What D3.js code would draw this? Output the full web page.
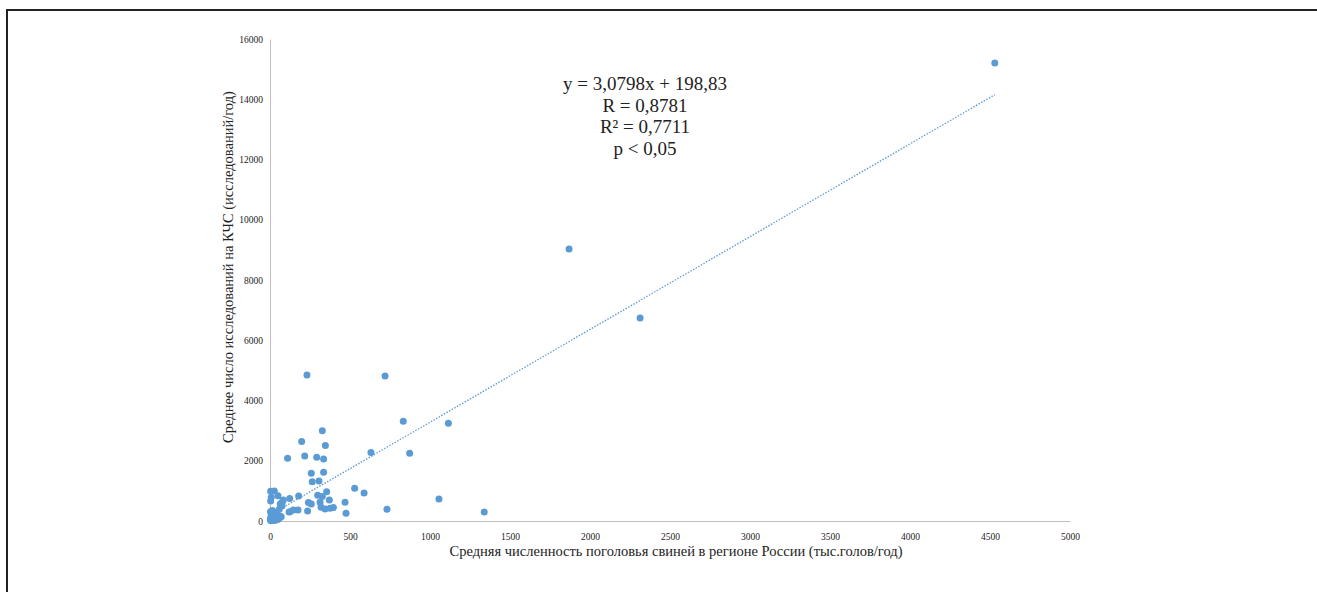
<!DOCTYPE html>
<html>
<head>
<meta charset="utf-8">
<script src="https://cdn.jsdelivr.net/npm/d3@7"></script>
<style>
  body { margin: 0; background: #fff; }
  text { font-family: "Liberation Serif", "Times New Roman", serif; fill: #222; }
</style>
</head>
<body>
<script>
// pig numbers (thous. heads/year) and CSF tests per year
var pigs = [4530, 1869, 2313, 231, 719, 833, 1115, 327, 198, 346, 631, 873, 110, 217, 292, 335,
            258, 335, 264, 306, 354, 298, 327, 371, 529, 588, 1056, 469, 475, 731, 1339, 240,
            258, 235, 179, 123, 4, 27, 8, 50, 319, 344, 375, 396, 313, 146, 119, 175, 75, 77,
            83, 64, 58, 4, 125,
            2, 5, 8, 10, 12, 15, 18, 20, 22, 25, 28, 30, 33, 36, 40, 44, 48, 52, 58, 62, 3, 6, 14, 26, 70];
var tests = [15200, 9030, 6740, 4850, 4810, 3310, 3245, 3000, 2640, 2510, 2270, 2250, 2085, 2160, 2115, 2060,
             1585, 1615, 1300, 1330, 975, 855, 810, 700, 1085, 930, 730, 620, 255, 390, 300, 610,
             565, 335, 830, 750, 985, 1000, 790, 835, 455, 400, 420, 445, 620, 365, 300, 365, 500, 630,
             700, 565, 390, 664, 310,
             50, 120, 200, 280, 90, 30, 160, 240, 60, 110, 180, 20, 140, 70, 100, 210, 50, 130, 90, 170, 310, 10, 350, 300, 140];

var xTicks = [0, 500, 1000, 1500, 2000, 2500, 3000, 3500, 4000, 4500, 5000];
var yTicks = [0, 2000, 4000, 6000, 8000, 10000, 12000, 14000, 16000];

var slope = 3.0798, intercept = 198.83;
var statLines = ["y = 3,0798x + 198,83", "R = 0,8781", "R\u00b2 = 0,7711", "p < 0,05"];

var xTitle = "Средняя численность поголовья свиней в регионе России (тыс.голов/год)";
var yTitle = "Среднее число исследований на КЧС (исследований/год)";

var width = 1317, height = 592;
var blue = "#5b9bd5";

var svg = d3.select("body").append("svg")
    .attr("width", width)
    .attr("height", height);

// frame (only top and left edges are in view)
svg.append("rect")
    .attr("x", 7).attr("y", 10)
    .attr("width", 1400).attr("height", 700)
    .attr("fill", "none")
    .attr("stroke", "#222")
    .attr("stroke-width", 2);

var x = d3.scaleLinear().domain([0, 5000]).range([270, 1070]);
var y = d3.scaleLinear().domain([0, 16000]).range([521, 39]);

// axes
var xAxis = svg.append("g")
    .attr("transform", "translate(0," + y(0) + ")")
    .call(d3.axisBottom(x).tickValues(xTicks).tickSize(0).tickPadding(12).tickFormat(d3.format("d")));
xAxis.select(".domain").attr("stroke", "#bfbfbf");
xAxis.selectAll("text").style("font-size", "9.5px").style("font-family", "Liberation Serif").attr("fill", "#333");

var yAxis = svg.append("g")
    .attr("transform", "translate(" + x(0) + ",0)")
    .call(d3.axisLeft(y).tickValues(yTicks).tickSize(0).tickPadding(7).tickFormat(d3.format("d")));
yAxis.select(".domain").attr("stroke", "#bfbfbf");
yAxis.selectAll("text").style("font-size", "9.5px").style("font-family", "Liberation Serif").attr("fill", "#333");

// trend line
svg.append("line")
    .attr("x1", x(0)).attr("y1", y(intercept))
    .attr("x2", x(d3.max(pigs))).attr("y2", y(slope * d3.max(pigs) + intercept))
    .attr("stroke", blue)
    .attr("stroke-width", 1.3)
    .attr("stroke-dasharray", "1.5,1.5");

// points
svg.selectAll(".dot")
    .data(pigs.map(function(d, i) { return [d, tests[i]]; }))
  .enter().append("circle")
    .attr("class", "dot")
    .attr("cx", function(d) { return x(d[0]); })
    .attr("cy", function(d) { return y(d[1]); })
    .attr("r", 3.5)
    .attr("fill", blue);

// stats
svg.selectAll(".stat")
    .data(statLines)
  .enter().append("text")
    .attr("class", "stat")
    .attr("x", 645)
    .attr("y", function(d, i) { return 90 + i * 21.7; })
    .attr("text-anchor", "middle")
    .style("font-size", "19px")
    .text(function(d) { return d; });

// axis titles
svg.append("text")
    .attr("x", 676).attr("y", 556)
    .attr("text-anchor", "middle")
    .style("font-size", "14.5px")
    .text(xTitle);

svg.append("text")
    .attr("transform", "translate(233,267) rotate(-90)")
    .attr("text-anchor", "middle")
    .style("font-size", "14.5px")
    .text(yTitle);
</script>
</body>
</html>
